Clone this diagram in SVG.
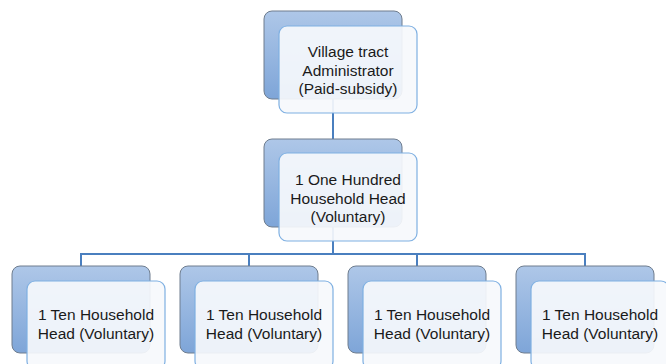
<svg xmlns="http://www.w3.org/2000/svg" width="666" height="364" viewBox="0 0 666 364">
<defs>
<linearGradient id="bg" x1="0" y1="0" x2="0" y2="1">
<stop offset="0" stop-color="#aec7e8"/>
<stop offset="1" stop-color="#7ea5d8"/>
</linearGradient>
<style>
.back{fill:url(#bg);stroke:#6f7d8e;stroke-width:1}
.front{fill:#f6f8fc;fill-opacity:0.92;stroke:#7fb0e2;stroke-width:1.2}
.conn{stroke:#4a7fbf;stroke-width:2;fill:none}
text{font-family:"Liberation Sans",Arial,sans-serif;font-size:15.5px;fill:#1a1a1a;text-anchor:middle}
</style>
</defs>
<rect width="666" height="364" fill="#ffffff"/>
<g id="connectors">
<line class="conn" x1="333" y1="99" x2="333" y2="139"/>
<line class="conn" x1="333" y1="227" x2="333" y2="254"/>
<line class="conn" x1="80" y1="254" x2="586" y2="254"/>
<line class="conn" x1="81" y1="254" x2="81" y2="266"/>
<line class="conn" x1="249" y1="254" x2="249" y2="266"/>
<line class="conn" x1="417" y1="254" x2="417" y2="266"/>
<line class="conn" x1="585" y1="254" x2="585" y2="266"/>
</g>
<g id="node-admin">
<rect class="back" x="264" y="11" width="138" height="88" rx="8"/>
<rect class="front" x="279" y="26" width="138" height="87" rx="8"/>
<text x="348" y="57">Village tract</text>
<text x="348" y="75.5">Administrator</text>
<text x="348" y="94">(Paid-subsidy)</text>
</g>
<g id="node-hundred">
<rect class="back" x="264" y="139" width="138" height="88" rx="8"/>
<rect class="front" x="279" y="153" width="138" height="88" rx="8"/>
<text x="348" y="185">1 One Hundred</text>
<text x="348" y="203.5">Household Head</text>
<text x="348" y="222">(Voluntary)</text>
</g>
<g id="node-ten1">
<rect class="back" x="12" y="266" width="138" height="87" rx="8"/>
<rect class="front" x="27" y="281" width="138" height="88" rx="8"/>
<text x="96" y="320">1 Ten Household</text>
<text x="96" y="339">Head (Voluntary)</text>
</g>
<g id="node-ten2">
<rect class="back" x="180" y="266" width="138" height="87" rx="8"/>
<rect class="front" x="195" y="281" width="138" height="88" rx="8"/>
<text x="264" y="320">1 Ten Household</text>
<text x="264" y="339">Head (Voluntary)</text>
</g>
<g id="node-ten3">
<rect class="back" x="348" y="266" width="138" height="87" rx="8"/>
<rect class="front" x="363" y="281" width="138" height="88" rx="8"/>
<text x="432" y="320">1 Ten Household</text>
<text x="432" y="339">Head (Voluntary)</text>
</g>
<g id="node-ten4">
<rect class="back" x="516" y="266" width="138" height="87" rx="8"/>
<rect class="front" x="531" y="281" width="138" height="88" rx="8"/>
<text x="600" y="320">1 Ten Household</text>
<text x="600" y="339">Head (Voluntary)</text>
</g>
</svg>
